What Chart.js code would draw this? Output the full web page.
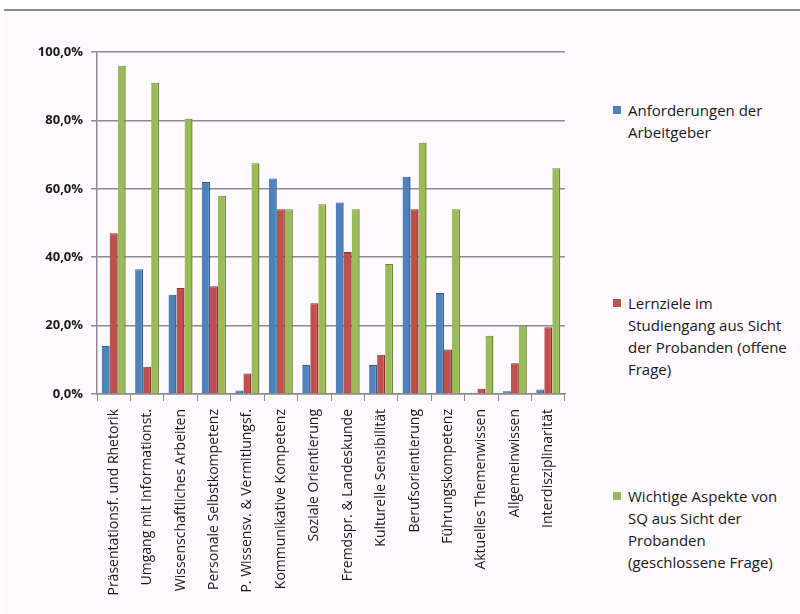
<!DOCTYPE html>
<html>
<head>
<meta charset="utf-8">
<script src="https://cdn.jsdelivr.net/npm/chart.js@4"></script>
<style>
  html, body { margin: 0; padding: 0; background: #ffffff; }
  #page { position: absolute; left: 0; top: 0; width: 800px; height: 614px; overflow: hidden; }
  #frame { position: absolute; left: 4px; top: 9px; width: 796px; height: 605px; background: #fdf9fd; border-top: 2px solid #8a8a8a; }
  #chart-wrap { position: absolute; left: 0; top: 0; width: 600px; height: 614px; }
  #legend { position: absolute; left: 613px; top: 0; width: 187px; font-family: "Open Sans", sans-serif; font-size: 15px; color: #1a1a1a; line-height: 22px; }
  .item { position: absolute; left: 0; width: 187px; white-space: nowrap; }
  .box { position: absolute; left: 0; top: 7px; width: 8px; height: 8px; }
  .txt { position: absolute; left: 15px; }
</style>
</head>
<body>
<div id="page">
  <div id="frame"></div>
  <div id="chart-wrap"><canvas id="chart-container" width="600" height="614"></canvas></div>
  <div id="legend"></div>
</div>
<script>
// Kategorien (x-Achse)
const categorias = [
  'Präsentationsf. und Rhetorik',
  'Umgang mit Informationst.',
  'Wissenschaftliches Arbeiten',
  'Personale Selbstkompetenz',
  'P. Wissensv. & Vermitlungsf.',
  'Kommunikative Kompetenz',
  'Soziale Orientierung',
  'Fremdspr. & Landeskunde',
  'Kulturelle Sensibilität',
  'Berufsorientierung',
  'Führungskompetenz',
  'Aktuelles Themenwissen',
  'Allgemeinwissen',
  'Interdisziplinarität'
];

// Serien (Prozent)
const anforderungen = [14, 36.5, 29, 62, 1, 63, 8.5, 56, 8.5, 63.5, 29.5, 0.4, 0.8, 1.3];
const lernziele = [47, 8, 31, 31.5, 6, 54, 26.5, 41.5, 11.5, 54, 13, 1.5, 9, 19.5];
const wichtigeAspekte = [96, 91, 80.5, 58, 67.5, 54, 55.5, 54, 38, 73.5, 54, 17, 20, 66];

// Legendentexte (Zeilen)
const legendeTexte = [
  ['Anforderungen der', 'Arbeitgeber'],
  ['Lernziele im', 'Studiengang aus Sicht', 'der Probanden (offene', 'Frage)'],
  ['Wichtige Aspekte von', 'SQ aus Sicht der', 'Probanden', '(geschlossene Frage)']
];
const legendeTop = [99, 292, 485];

const farben = ['#4f81bd', '#c0504d', '#9bbb59'];
const randFarben = ['#2f5f94', '#8f302d', '#6f8a38'];

const yTicks = [0, 20, 40, 60, 80, 100];

function crearLeyenda() {
  const leg = document.getElementById('legend');
  legendeTexte.forEach((lineas, i) => {
    const item = document.createElement('div');
    item.className = 'item';
    item.style.top = legendeTop[i] + 'px';
    const box = document.createElement('div');
    box.className = 'box';
    box.style.background = farben[i];
    const txt = document.createElement('div');
    txt.className = 'txt';
    txt.innerHTML = lineas.join('<br>');
    item.appendChild(box);
    item.appendChild(txt);
    leg.appendChild(item);
  });
}

function crearGrafico() {
  const series = [anforderungen, lernziele, wichtigeAspekte];
  const data = {
    labels: categorias,
    datasets: series.map((valores, i) => ({
      label: legendeTexte[i].join(' '),
      data: valores,
      backgroundColor: farben[i],
      borderColor: randFarben[i],
      borderWidth: { top: 1, right: 1.5, bottom: 0, left: 0 },
      borderSkipped: false,
      barPercentage: 1.0,
      categoryPercentage: 0.72
    }))
  };

  const ctx = document.getElementById('chart-container').getContext('2d');
  new Chart(ctx, {
    type: 'bar',
    data: data,
    options: {
      responsive: false,
      animation: false,
      layout: { padding: { top: 52, right: 35, bottom: 0, left: 0 } },
      plugins: {
        legend: { display: false },
        tooltip: { enabled: false }
      },
      scales: {
        x: {
          grid: { display: true, drawOnChartArea: false, offset: true, tickLength: 7, color: '#8c8c8c' },
          border: { display: true, color: '#8c8c8c', width: 1.5 },
          ticks: {
            autoSkip: false,
            maxRotation: 90,
            minRotation: 90,
            padding: 8,
            color: '#1a1a1a',
            font: { family: 'Open Sans', size: 14 }
          },
          afterFit: (scale) => { scale.height = 220; }
        },
        y: {
          min: 0,
          max: 100,
          afterBuildTicks: (scale) => { scale.ticks = yTicks.map(v => ({ value: v })); },
          grid: { color: '#8c8c8c', lineWidth: 1.5, tickLength: 6, drawTicks: true },
          border: { display: true, color: '#8c8c8c', width: 1.5 },
          ticks: {
            padding: 8,
            color: '#1a1a1a',
            font: { family: 'Open Sans', size: 13, weight: 'bold' },
            callback: (v) => v.toFixed(1).replace('.', ',') + '%'
          },
          afterFit: (scale) => { scale.width = 97; }
        }
      }
    }
  });
}

document.addEventListener('DOMContentLoaded', function() {
  crearLeyenda();
  crearGrafico();
});
</script>
</body>
</html>
